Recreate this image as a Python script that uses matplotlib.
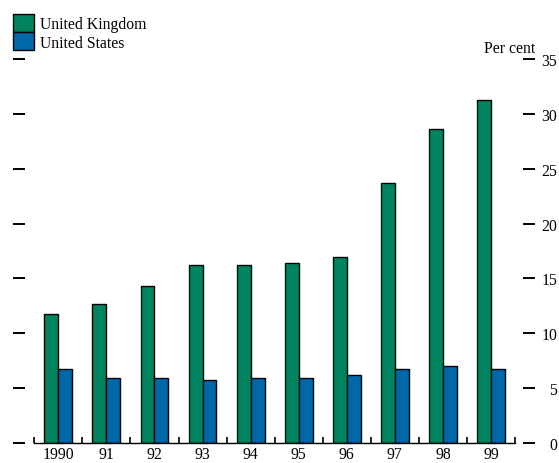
import matplotlib
matplotlib.use("Agg")
import matplotlib.pyplot as plt
from matplotlib.patches import Patch
import numpy as np

plt.rcParams['font.family'] = ['Liberation Serif', 'DejaVu Serif']
plt.rcParams['font.size'] = 11.3

# dados
anos = ['1990', '91', '92', '93', '94', '95', '96', '97', '98', '99']
reino_unido = [11.8, 12.7, 14.3, 16.2, 16.2, 16.45, 16.95, 23.7, 28.6, 31.3]
estados_unidos = [6.7, 5.9, 5.9, 5.7, 5.9, 5.9, 6.2, 6.7, 7.0, 6.7]
cores = ['#00845f', '#0067a8']
rotulos = ['United Kingdom', 'United States']

fig = plt.figure(figsize=(5.59, 4.64), dpi=100)
ax = fig.add_axes([34.3/559, 20/464, (515-34.3)/559, 384/464])

x = np.arange(len(anos))
larg = 0.29
ax.bar(x - larg/2, reino_unido, larg, color=cores[0], edgecolor='black', linewidth=1.0)
ax.bar(x + larg/2, estados_unidos, larg, color=cores[1], edgecolor='black', linewidth=1.0)

ax.set_xlim(-0.5, len(anos) - 0.5)
ax.set_ylim(0, 35)

# eixo x: linha de baixo com tracinhos entre os anos
ax.spines['top'].set_visible(False)
ax.spines['bottom'].set_linewidth(1.0)
ax.set_xticks(x)
ax.set_xticklabels(anos)
ax.set_xticks(np.arange(-0.5, len(anos)), minor=True)
ax.tick_params(axis='x', which='major', length=0, pad=2)
ax.tick_params(axis='x', which='minor', direction='in', length=4.5, width=1.2)

# eixo y: tracinhos soltos dos dois lados, numeros so na direita
ax.spines['left'].set_position(('outward', 6.5))
ax.spines['right'].set_position(('outward', 6))
ax.spines['left'].set_color('none')
ax.spines['right'].set_color('none')
ax.set_yticks(range(0, 36, 5))
ax.yaxis.set_ticks_position('both')
ax.tick_params(axis='y', which='major', direction='out', width=1.4, length=8.5,
               left=True, right=True, labelleft=False, labelright=True, pad=16)
for t in ax.get_yticklabels():
    t.set_horizontalalignment('right')

fig.text(535/559, 1 - 53/464, 'Per cent', ha='right', va='baseline')

handles = [Patch(facecolor=c, edgecolor='black', linewidth=1.0) for c in cores]
fig.legend(handles, rotulos, loc='upper left', bbox_to_anchor=(13.3/559, 1 - 15/464),
           frameon=False, handlelength=1.3, handleheight=1.4, labelspacing=0,
           handletextpad=0.4, borderpad=0, borderaxespad=0)

plt.savefig('out.png', dpi=100)
